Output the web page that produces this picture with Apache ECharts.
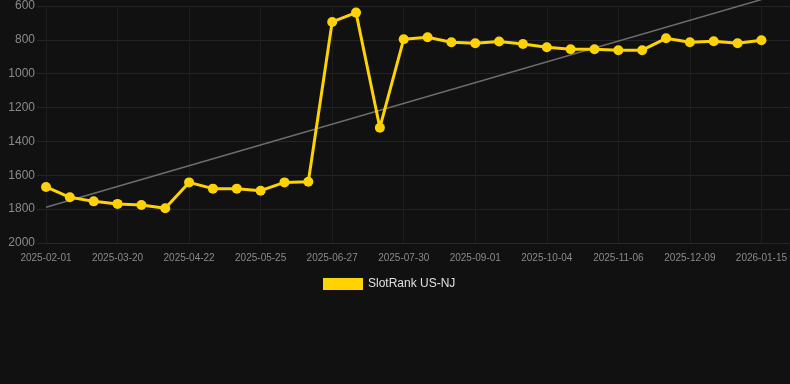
<!DOCTYPE html>
<html>
<head>
<meta charset="utf-8">
<script src="https://cdn.jsdelivr.net/npm/echarts@6/dist/echarts.min.js"></script>
<style>
  html, body { margin: 0; padding: 0; background: #111111; }
  #chart { width: 790px; height: 384px; }
</style>
</head>
<body>
<div id="chart"></div>
<script>
// dates on the x axis (every 3rd one is labelled)
var dates = [
  '2025-02-01', '2025-02-17', '2025-03-05', '2025-03-20', '2025-03-31', '2025-04-11',
  '2025-04-22', '2025-05-03', '2025-05-14', '2025-05-25', '2025-06-05', '2025-06-16',
  '2025-06-27', '2025-07-08', '2025-07-19', '2025-07-30', '2025-08-10', '2025-08-21',
  '2025-09-01', '2025-09-12', '2025-09-23', '2025-10-04', '2025-10-15', '2025-10-26',
  '2025-11-06', '2025-11-17', '2025-11-28', '2025-12-09', '2025-12-21', '2026-01-02',
  '2026-01-15'
];
// rank values (lower is better, axis is inverted)
var rankNJ = [
  1669, 1730, 1754, 1769, 1775, 1795, 1642, 1679, 1679, 1691, 1642, 1638,
  694, 639, 1319, 796, 785, 814, 820, 810, 824, 844, 855, 855,
  861, 861, 791, 814, 808, 820, 802
];
// trend line end points (first and last date)
var trendEnds = [1789, 562];
var yTicks = { min: 600, max: 2000, step: 200 };

var trend = dates.map(function (d, i) {
  if (i === 0) return trendEnds[0];
  if (i === dates.length - 1) return trendEnds[1];
  return null;
});

var font = 'Liberation Sans, Arial, sans-serif';
var chart = echarts.init(document.getElementById('chart'));

var option = {
  backgroundColor: '#111111',
  animation: false,
  textStyle: { fontFamily: font },
  legend: {
    left: 318,
    top: 273,
    itemWidth: 40,
    itemHeight: 12,
    data: [{ name: 'SlotRank US-NJ', icon: 'rect' }],
    textStyle: { color: '#e0e0e0', fontSize: 12, fontFamily: font }
  },
  grid: [
    { left: 37, right: 0, top: 6, bottom: 141 },
    { left: 46, right: 28, top: 6, bottom: 141 }
  ],
  xAxis: [
    { gridIndex: 0, type: 'value', show: false, min: 0, max: 1 },
    {
      gridIndex: 1,
      type: 'category',
      data: dates,
      boundaryGap: false,
      axisLine: { show: true, lineStyle: { color: '#2a2a2a' } },
      axisTick: { show: false },
      axisLabel: { interval: 2, color: '#8a8a8a', fontSize: 10, margin: 10, fontFamily: font },
      splitLine: { show: true, interval: 2, lineStyle: { color: '#1e1e1e' } }
    }
  ],
  yAxis: [
    {
      gridIndex: 0,
      type: 'value',
      inverse: true,
      min: yTicks.min,
      max: yTicks.max,
      interval: yTicks.step,
      axisLine: { show: false },
      axisTick: { show: false },
      axisLabel: {
        color: '#8a8a8a', fontSize: 12, margin: 2, fontFamily: font,
        formatter: function (v) { return String(v); }
      },
      splitLine: { lineStyle: { color: '#242424' } }
    },
    {
      gridIndex: 1,
      type: 'value',
      inverse: true,
      min: yTicks.min,
      max: yTicks.max,
      interval: yTicks.step,
      show: false
    }
  ],
  series: [
    {
      name: 'trend',
      type: 'line',
      xAxisIndex: 1,
      yAxisIndex: 1,
      data: trend,
      connectNulls: true,
      clip: false,
      symbol: 'none',
      z: 1,
      lineStyle: { color: '#6e6e6e', width: 1.5 }
    },
    {
      name: 'SlotRank US-NJ',
      type: 'line',
      xAxisIndex: 1,
      yAxisIndex: 1,
      data: rankNJ,
      symbol: 'circle',
      symbolSize: 10,
      z: 3,
      itemStyle: { color: '#FFD200' },
      lineStyle: { color: '#FFD200', width: 3 }
    }
  ]
};

chart.setOption(option);
</script>
</body>
</html>
